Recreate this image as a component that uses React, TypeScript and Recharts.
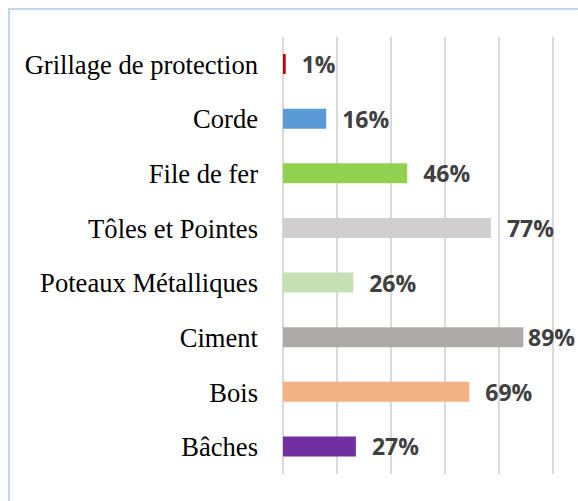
import { BarChart, Bar, XAxis, YAxis, CartesianGrid, Cell, LabelList } from 'recharts'

const categories = [
  'Grillage de protection',
  'Corde',
  'File de fer',
  'Tôles et Pointes',
  'Poteaux Métalliques',
  'Ciment',
  'Bois',
  'Bâches',
]
const percentages = [1, 16, 46, 77, 26, 89, 69, 27]
const barColors = ['#c00000', '#5b9bd5', '#92d050', '#d0cece', '#c5e0b4', '#aeaaaa', '#f4b183', '#7030a0']
const xTicks = [0, 20, 40, 60, 80, 100]

const data = categories.map((name, i) => ({ name, value: percentages[i] }))

const CHART_W = 568
const CHART_H = 491
const LABEL_RIGHT_LIMIT = 563

// value label just past the bar end, pushed back inside when it would overflow
function ValueLabel(props: any) {
  const { x, y, width, height, value } = props
  const text = `${value}%`
  const textW = String(value).length * 13 + 19
  let start = Number(x) + Number(width) + 16
  if (start + textW > LABEL_RIGHT_LIMIT) start = LABEL_RIGHT_LIMIT - textW
  return (
    <text
      x={start}
      y={Number(y) + Number(height) / 2}
      dominantBaseline="central"
      fill="#404040"
      fontFamily="'Open Sans', sans-serif"
      fontWeight={700}
      fontSize={23}
    >
      {text}
    </text>
  )
}

export default function App() {
  return (
    <div
      style={{
        position: 'fixed',
        top: 8,
        left: 8,
        right: 0,
        bottom: 0,
        overflow: 'hidden',
        borderTop: '2px solid #bdd7ee',
        borderLeft: '2px solid #bdd7ee',
        background: '#fff',
      }}
    >
      <BarChart
        width={CHART_W}
        height={CHART_H}
        data={data}
        layout="vertical"
        margin={{ top: 27, right: 25, bottom: 27, left: 0 }}
        barSize={20}
      >
        <CartesianGrid horizontal={false} stroke="#d9d9d9" strokeWidth={2} />
        <XAxis type="number" domain={[0, 100]} ticks={xTicks} hide />
        <YAxis
          type="category"
          dataKey="name"
          width={273}
          axisLine={false}
          tickLine={false}
          tickSize={0}
          tickMargin={25}
          tick={{ fontSize: 26.6, fill: '#000', fontFamily: "'Liberation Serif', 'Times New Roman', serif" }}
        />
        <Bar dataKey="value" isAnimationActive={false}>
          {data.map((d, i) => (
            <Cell key={d.name} fill={barColors[i]} />
          ))}
          <LabelList dataKey="value" content={ValueLabel} />
        </Bar>
      </BarChart>
    </div>
  )
}
